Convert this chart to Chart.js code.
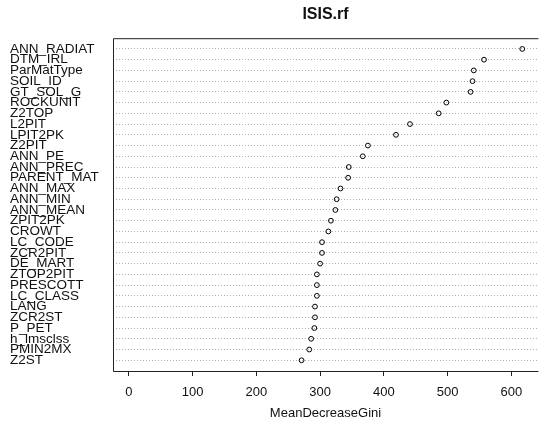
<!DOCTYPE html>
<html>
<head>
<meta charset="utf-8">
<script src="https://cdn.jsdelivr.net/npm/chart.js@4/dist/chart.umd.min.js"></script>
<style>
  html, body { margin: 0; padding: 0; background: #fff; overflow: hidden; }
  #wrap { width: 539px; height: 427px; overflow: hidden; }
</style>
</head>
<body>
<div id="wrap"><canvas id="myChart" width="543" height="427"></canvas></div>
<script>
// variables, top to bottom as in the plot
const varNames = [
  "ANN_RADIAT", "DTM_IRL", "ParMatType", "SOIL_ID", "GT_SOL_G", "ROCKUNIT",
  "Z2TOP", "L2PIT", "LPIT2PK", "Z2PIT", "ANN_PE", "ANN_PREC", "PARENT_MAT",
  "ANN_MAX", "ANN_MIN", "ANN_MEAN", "ZPIT2PK", "CROWT", "LC_CODE", "ZCR2PIT",
  "DE_MART", "ZTOP2PIT", "PRESCOTT", "LC_CLASS", "LANG", "ZCR2ST", "P_PET",
  "h_lmsclss", "PMIN2MX", "Z2ST"
];
const giniValues = [
  617, 557, 541, 539, 536, 498,
  486, 441, 419, 375, 367, 345, 344,
  332, 326, 324, 317, 313, 303, 303,
  300, 295, 295, 295, 292, 292, 291,
  286, 283, 271
];
const xTicks = [0, 100, 200, 300, 400, 500, 600];

const n = varNames.length;
const points = giniValues.map(function (v, i) {
  return { x: v, y: n - i };
});

// white background + the R style box (left, top, bottom)
const frame = {
  id: "frame",
  beforeDraw: function (chart) {
    const ctx = chart.ctx;
    ctx.save();
    ctx.fillStyle = "#fff";
    ctx.fillRect(0, 0, chart.width, chart.height);
    ctx.restore();
  },
  afterDatasetsDraw: function (chart) {
    const a = chart.chartArea;
    const ctx = chart.ctx;
    ctx.save();
    ctx.strokeStyle = "#222";
    ctx.lineWidth = 1;
    ctx.beginPath();
    ctx.moveTo(a.right + 0.5, a.top + 0.5);
    ctx.lineTo(a.left + 0.5, a.top + 0.5);
    ctx.lineTo(a.left + 0.5, a.bottom + 0.5);
    ctx.lineTo(a.right + 0.5, a.bottom + 0.5);
    ctx.stroke();
    ctx.restore();
  }
};

const c = document.getElementById("myChart");
const myChart = new Chart(c, {
  type: "scatter",
  data: {
    datasets: [
      {
        label: "MeanDecreaseGini",
        data: points,
        pointStyle: "circle",
        pointRadius: 2.4,
        pointBorderWidth: 1,
        borderColor: "#000",
        backgroundColor: "rgba(0,0,0,0)",
      },
    ],
  },
  options: {
    responsive: false,
    animation: false,
    layout: { padding: { left: 10, right: 0, top: 0, bottom: 0 } },
    scales: {
      x: {
        type: "linear",
        min: -24.7,
        max: 641.7,
        afterBuildTicks: function (scale) {
          scale.ticks = xTicks.map(function (v) { return { value: v }; });
        },
        afterFit: function (scale) {
          scale.height = 56;
        },
        grid: {
          display: true,
          drawOnChartArea: false,
          drawTicks: true,
          tickLength: 5,
          color: "#222",
        },
        border: { display: false },
        ticks: {
          color: "#111",
          padding: 9,
          maxRotation: 0,
          font: { family: "'Liberation Sans', Arial, sans-serif", size: 13 },
        },
        title: {
          display: true,
          text: "MeanDecreaseGini",
          color: "#111",
          padding: { top: 0, bottom: 6 },
          font: { family: "'Liberation Sans', Arial, sans-serif", size: 13 },
        },
      },
      y: {
        type: "linear",
        min: 0,
        max: n + 1,
        afterBuildTicks: function (scale) {
          scale.ticks = varNames.map(function (_, i) { return { value: i + 1 }; });
        },
        afterFit: function (scale) {
          scale.width = 103;
        },
        grid: {
          display: true,
          drawTicks: false,
          color: "#b0b0b0",
          lineWidth: 1,
        },
        border: { display: false, dash: [1, 2] },
        ticks: {
          autoSkip: false,
          crossAlign: "far",
          padding: 0,
          color: "#111",
          font: { family: "'Liberation Sans', Arial, sans-serif", size: 13.5, lineHeight: 1 },
          callback: function (value) {
            return varNames[n - value];
          },
        },
      },
    },
    plugins: {
      legend: { display: false },
      tooltip: { enabled: false },
      title: {
        display: true,
        fullSize: false,
        text: "ISIS.rf",
        color: "#111",
        padding: { top: 5, bottom: 14 },
        font: { family: "'Liberation Sans', Arial, sans-serif", size: 16, weight: "bold", lineHeight: 1.2 },
      },
    },
  },
  plugins: [frame],
});
</script>
</body>
</html>
